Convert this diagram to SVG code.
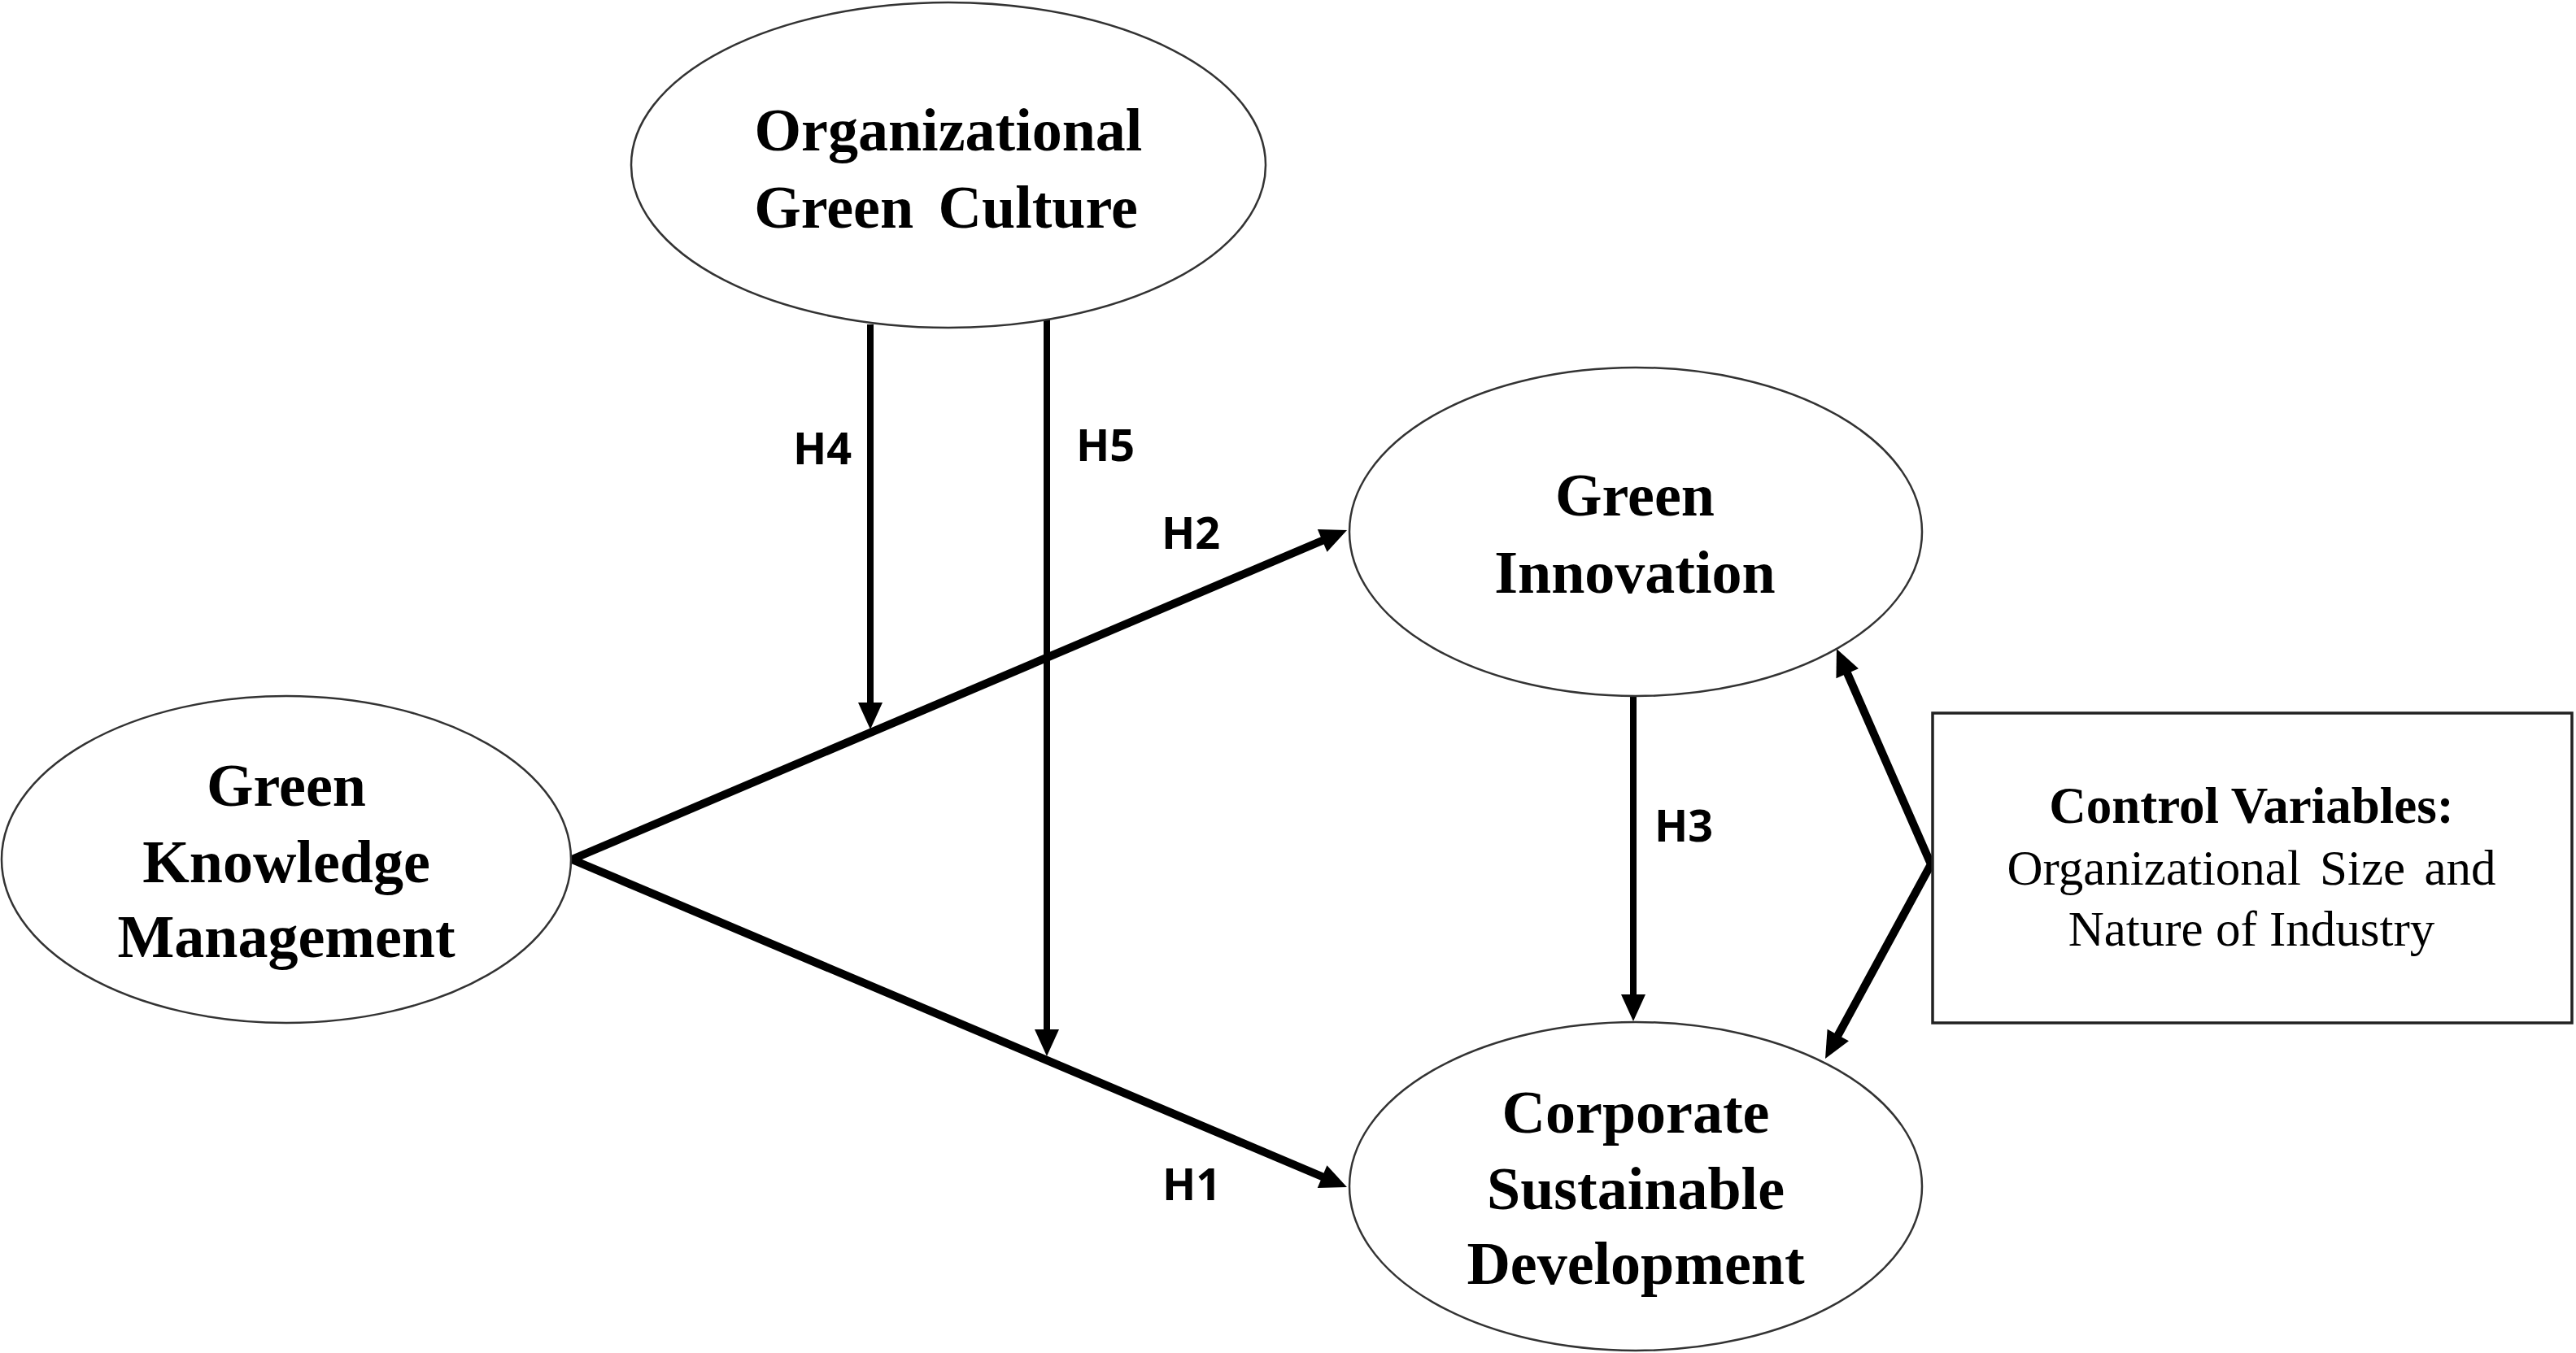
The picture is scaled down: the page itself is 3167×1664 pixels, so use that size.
<svg xmlns="http://www.w3.org/2000/svg" width="3167" height="1664" viewBox="0 0 3167 1664">
<style>
.node ellipse{fill:#fff;stroke:#333;stroke-width:2.5}
.box{fill:#fff;stroke:#222;stroke-width:3.5}
.t{font-family:"Liberation Serif","Times New Roman",serif;font-weight:700;font-size:74px;fill:#000;text-anchor:middle}
.cb{font-family:"Liberation Serif","Times New Roman",serif;font-weight:700;font-size:63px;fill:#000;text-anchor:middle}
.cr{font-family:"Liberation Serif","Times New Roman",serif;font-weight:400;font-size:61px;fill:#000;text-anchor:middle}
.lbl{font-family:"Open Sans","Liberation Sans",sans-serif;font-weight:700;font-size:54px;fill:#000}
.c line,.c path{stroke:#000;fill:none;stroke-linejoin:miter}
.v{stroke-width:8}
.d{stroke-width:10}
</style>
<defs>
<marker id="ah" markerUnits="userSpaceOnUse" viewBox="-2 -16 36 32" markerWidth="36" markerHeight="32" refX="0" refY="0" orient="auto-start-reverse">
<path d="M-1,-15 L32,0 L-1,15 z" fill="#000"/>
</marker>
</defs>
<rect width="3167" height="1664" fill="#fff"/>
<g class="c" id="connectors">
<line class="d" x1="703" y1="1057" x2="1626.6" y2="664.5" marker-end="url(#ah)"/>
<line class="d" x1="703" y1="1057" x2="1626.5" y2="1447.5" marker-end="url(#ah)"/>
<line class="v" x1="1070" y1="399" x2="1070" y2="865" marker-end="url(#ah)"/>
<line class="v" x1="1287" y1="393" x2="1287" y2="1267" marker-end="url(#ah)"/>
<line class="v" x1="2008" y1="856" x2="2008" y2="1224" marker-end="url(#ah)"/>
<path class="d" d="M2270.8,827.3 L2374,1063 L2259.3,1273.9" marker-start="url(#ah)" marker-end="url(#ah)"/>
</g>
<g id="n-ogc" class="node">
<ellipse cx="1166" cy="203" rx="390" ry="200"/>
<text class="t" x="1166" y="185">Organizational</text>
<text class="t" x="1163" y="280" word-spacing="12">Green Culture</text>
</g>
<g id="n-gkm" class="node">
<ellipse cx="352" cy="1057" rx="350" ry="201"/>
<text class="t" x="352" y="991">Green</text>
<text class="t" x="352" y="1085">Knowledge</text>
<text class="t" x="352" y="1177">Management</text>
</g>
<g id="n-gi" class="node">
<ellipse cx="2011" cy="654" rx="352" ry="202"/>
<text class="t" x="2010" y="634">Green</text>
<text class="t" x="2010" y="729">Innovation</text>
</g>
<g id="n-csd" class="node">
<ellipse cx="2011" cy="1459" rx="352" ry="202"/>
<text class="t" x="2011" y="1393">Corporate</text>
<text class="t" x="2011" y="1487">Sustainable</text>
<text class="t" x="2011" y="1579">Development</text>
</g>
<g id="n-cv">
<rect class="box" x="2376" y="877" width="786" height="381"/>
<text class="cb" x="2768" y="1012">Control Variables:</text>
<text class="cr" x="2768" y="1088" word-spacing="8">Organizational Size and</text>
<text class="cr" x="2768" y="1163">Nature of Industry</text>
</g>
<g id="labels">
<text class="lbl" x="975" y="571">H4</text>
<text class="lbl" x="1323" y="567">H5</text>
<text class="lbl" x="1428" y="675">H2</text>
<text class="lbl" x="2034" y="1035">H3</text>
<text class="lbl" x="1429" y="1476">H1</text>
</g>
</svg>
